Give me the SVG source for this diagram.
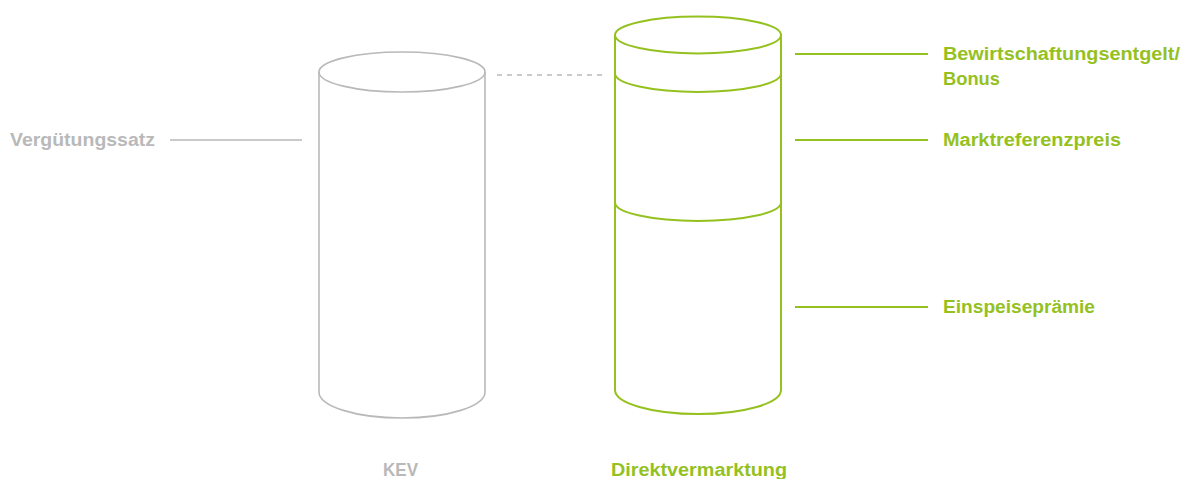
<svg xmlns="http://www.w3.org/2000/svg" width="1188" height="479" viewBox="0 0 1188 479">
<style>
.g{fill:none;stroke:#b9b9b9;stroke-width:1.6}
.v{fill:none;stroke:#95c11f;stroke-width:2}
.tg{font-family:"Liberation Sans",Arial,sans-serif;font-weight:bold;font-size:18px;fill:#b9b9b9}
.tv{font-family:"Liberation Sans",Arial,sans-serif;font-weight:bold;font-size:18px;fill:#95c11f}
</style>
<rect width="1188" height="479" fill="#ffffff"/>
<g id="kev">
<ellipse class="g" cx="402" cy="72" rx="83" ry="20"/>
<path class="g" d="M319,72 V392 A83,26 0 0 0 485,392 V72"/>
<text class="tg" x="400.5" y="476" text-anchor="middle" textLength="35" lengthAdjust="spacingAndGlyphs">KEV</text>
</g>
<g id="direktvermarktung">
<ellipse class="v" cx="698" cy="35" rx="83" ry="18.5"/>
<path class="v" d="M615,35 V390 A83,24 0 0 0 781,390 V35"/>
<path class="v" d="M615,73.5 A83,18.5 0 0 0 781,73.5"/>
<path class="v" d="M615,202.5 A83,18.5 0 0 0 781,202.5"/>
<text class="tv" x="699" y="476" text-anchor="middle" textLength="176" lengthAdjust="spacingAndGlyphs">Direktvermarktung</text>
</g>
<g id="label-verguetungssatz">
<text class="tg" x="10" y="146" textLength="145" lengthAdjust="spacingAndGlyphs">Vergütungssatz</text>
</g>
<g id="label-bewirtschaftung">
<text class="tv" x="943" y="60" textLength="237" lengthAdjust="spacingAndGlyphs">Bewirtschaftungsentgelt/</text>
<text class="tv" x="943" y="85" textLength="57" lengthAdjust="spacingAndGlyphs">Bonus</text>
</g>
<g id="label-marktreferenzpreis">
<text class="tv" x="943" y="146" textLength="178" lengthAdjust="spacingAndGlyphs">Marktreferenzpreis</text>
</g>
<g id="label-einspeisepraemie">
<text class="tv" x="943" y="313" textLength="152" lengthAdjust="spacingAndGlyphs">Einspeiseprämie</text>
</g>
<g id="connectors">
<line class="g" x1="170" y1="140" x2="302" y2="140"/>
<line class="g" x1="497" y1="75" x2="605" y2="75" stroke-dasharray="5 5"/>
<line class="v" x1="795" y1="54" x2="928" y2="54" stroke-width="1.6"/>
<line class="v" x1="795" y1="140" x2="928" y2="140" stroke-width="1.6"/>
<line class="v" x1="795" y1="307" x2="928" y2="307" stroke-width="1.6"/>
</g>
</svg>
